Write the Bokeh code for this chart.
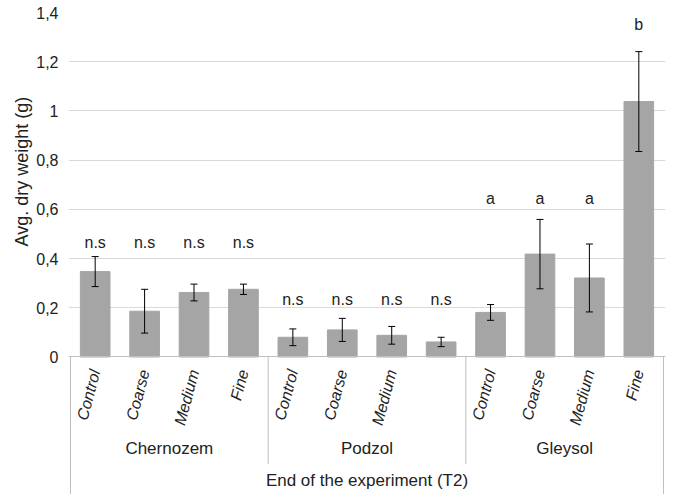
from bokeh.plotting import figure
from bokeh.models import (FactorRange, ColumnDataSource, Whisker, FixedTicker,
                          TeeHead, Title)
from bokeh.embed import file_html
from bokeh.resources import INLINE
from bokeh.core.properties import value

soils = ["Chernozem", "Podzol", "Gleysol"]
treatments = ["Control", "Coarse", "Medium", "Fine"]
podzol_last_label = " "  # 4th Podzol bar has no label in the original

means = [0.347, 0.186, 0.262, 0.275,
         0.080, 0.110, 0.088, 0.061,
         0.181, 0.418, 0.321, 1.038]
errors = [0.061, 0.089, 0.034, 0.021,
          0.034, 0.047, 0.036, 0.019,
          0.032, 0.141, 0.138, 0.203]
letters = ["n.s", "n.s", "n.s", "n.s",
           "n.s", "n.s", "n.s", "n.s",
           "a", "a", "a", "b"]
letter_y = [0.467, 0.467, 0.467, 0.467,
            0.232, 0.232, 0.232, 0.232,
            0.646, 0.646, 0.646, 1.350]
y_ticks = [0, 0.2, 0.4, 0.6, 0.8, 1.0, 1.2, 1.4]
y_tick_labels = ["0", "0,2", "0,4", "0,6", "0,8", "1", "1,2", "1,4"]

factors = []
for s in soils:
    for t in treatments:
        if s == "Podzol" and t == "Fine":
            factors.append((s, podzol_last_label))
        else:
            factors.append((s, t))

src = ColumnDataSource(dict(
    x=factors, top=means,
    upper=[m + e for m, e in zip(means, errors)],
    lower=[m - e for m, e in zip(means, errors)],
    lab=letters, ly=letter_y,
))

FONT = "Liberation Sans"
FS = "16px"
FS_L = "17px"
TXT = "#222222"
GRID = "#d9d9d9"
BOXLINE = "#bfbfbf"

# the frame is extended below zero so the category box can be drawn in it
Y_BELOW = -0.557      # bottom of the outer box (in value units)
Y_SEP = -0.435        # bottom of the soil separators

p = figure(x_range=FactorRange(*factors, group_padding=0, subgroup_padding=0,
                               factor_padding=0, range_padding=0.04,
                               range_padding_units="absolute"),
           y_range=(Y_BELOW - 0.002, 1.4), width=685, height=499,
           output_backend="svg", toolbar_location=None,
           min_border_left=68, min_border_right=20, min_border_top=12,
           min_border_bottom=5)
p.outline_line_color = None
p.background_fill_color = "white"
p.border_fill_color = "white"

p.vbar(x="x", top="top", width=0.6, source=src, fill_color="#a5a5a5",
       line_color="#a5a5a5")
p.add_layout(Whisker(base="x", upper="upper", lower="lower", source=src,
                     level="annotation",
                     line_color="black", line_width=1,
                     upper_head=TeeHead(size=7, line_color="black", line_width=1),
                     lower_head=TeeHead(size=7, line_color="black", line_width=1)))
p.text(x="x", y="ly", text="lab", source=src, text_align="center",
       text_baseline="middle", text_font=value(FONT), text_font_size=FS,
       text_color=TXT)

# category box lines under the axis (group boundaries)
n_t = len(treatments)
n_s = len(soils)
bx = [i * n_t for i in range(n_s + 1)]
by = [Y_BELOW if i in (0, n_s) else Y_SEP for i in range(n_s + 1)]
p.segment(x0=bx, y0=[0] * len(bx), x1=bx, y1=by, line_color=BOXLINE,
          line_width=1)

# y axis
p.yaxis.ticker = FixedTicker(ticks=y_ticks)
p.yaxis.bounds = (0, 1.4)
p.yaxis.major_label_overrides = {t: l for t, l in zip(y_ticks, y_tick_labels)}
p.yaxis.axis_line_color = None
p.yaxis.major_tick_line_color = None
p.yaxis.minor_tick_line_color = None
p.yaxis.major_tick_out = 0
p.yaxis.minor_tick_out = 0
p.yaxis.major_label_text_font = FONT
p.yaxis.major_label_text_font_size = FS
p.yaxis.major_label_text_color = TXT
p.yaxis.major_label_standoff = 10
p.ygrid.grid_line_color = GRID
p.xgrid.grid_line_color = None

# y axis title: side title, shifted up so it sits beside the value area
p.add_layout(Title(text="Avg. dry weight (g)", align="left", offset=248,
                   vertical_align="top",
                   text_font=FONT, text_font_size="18px",
                   text_font_style="normal", text_color=TXT, standoff=0),
             "left")

# x axis (nested categories), placed at value 0 inside the frame
xa = p.xaxis[0]
xa.fixed_location = 0
xa.axis_line_color = BOXLINE
xa.major_tick_line_color = None
xa.minor_tick_line_color = None
xa.major_label_orientation = 1.31
xa.major_label_text_font = FONT
xa.major_label_text_font_size = FS
xa.major_label_text_font_style = "italic"
xa.major_label_text_color = TXT
xa.major_label_standoff = 7
xa.group_text_font = FONT
xa.group_text_font_size = FS_L
xa.group_text_font_style = "normal"
xa.group_text_color = TXT
xa.separator_line_color = None
xa.axis_label = "End of the experiment (T2)"
xa.axis_label_text_font = FONT
xa.axis_label_text_font_size = FS_L
xa.axis_label_text_font_style = "normal"
xa.axis_label_text_color = TXT
xa.axis_label_standoff = 10

open("out.html", "w").write(file_html(p, INLINE))
